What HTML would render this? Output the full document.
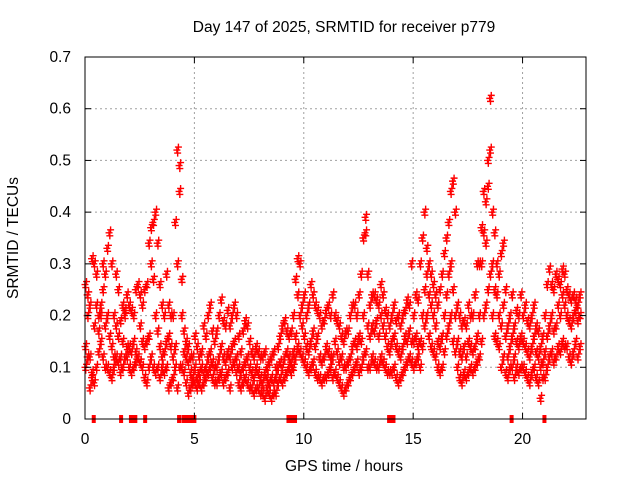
<!DOCTYPE html>
<html><head><meta charset="utf-8"><style>
body{margin:0;background:#fff}
svg{display:block;font-family:"Liberation Sans",sans-serif}
</style></head><body>
<svg id="chart" width="640" height="480" xmlns="http://www.w3.org/2000/svg">
<rect width="640" height="480" fill="#fff"/>
<text x="344" y="32" font-size="15.5" text-anchor="middle">Day 147 of 2025, SRMTID for receiver p779</text>
<text x="344" y="471" font-size="15.5" text-anchor="middle">GPS time / hours</text>
<text x="18" y="238" font-size="15.5" text-anchor="middle" transform="rotate(-90 18 238)">SRMTID / TECUs</text>
<g id="grid"></g>
<g id="marks"></g>
<g id="axes"></g>
</svg>
<script>
const xTicks=[0,5,10,15,20];
const yTicks=[0,0.1,0.2,0.3,0.4,0.5,0.6,0.7];
const yTickLabels=["0","0.1","0.2","0.3","0.4","0.5","0.6","0.7"];
const stepHours=0.1;
const midVals=[.14,.2,.12,.09,.18,.22,.17,.2,.25,.18,.2,.16,.14,.12,.18,.16,.12,.15,.2,.14,.14,.13,.15,.13,.12,.18,.15,.14,.15,.16,.3,.27,.2,.17,.14,.12,.13,.15,.16,.14,.12,.14,.3,.44,.2,.13,.12,.11,.09,.08,.1,.08,.09,.1,.09,.1,.12,.13,.11,.1,.1,.12,.14,.12,.11,.13,.12,.14,.15,.12,.1,.09,.1,.11,.12,.1,.09,.08,.1,.09,.08,.07,.09,.08,.07,.08,.07,.08,.1,.11,.1,.12,.13,.12,.11,.13,.16,.24,.2,.18,.16,.14,.13,.15,.17,.14,.16,.12,.11,.12,.14,.13,.12,.12,.15,.13,.11,.12,.1,.1,.11,.12,.14,.15,.14,.16,.15,.2,.36,.18,.16,.18,.17,.19,.16,.2,.18,.16,.14,.13,.15,.16,.14,.13,.12,.14,.16,.15,.17,.15,.15,.16,.14,.15,.2,.25,.28,.24,.22,.2,.18,.15,.14,.16,.2,.24,.28,.3,.25,.2,.15,.13,.12,.14,.12,.15,.14,.13,.14,.16,.2,.3,.36,.34,.45,.52,.3,.25,.24,.2,.18,.22,.16,.12,.14,.16,.12,.15,.14,.16,.15,.14,.13,.12,.14,.16,.13,.12,.1,.11,.13,.16,.18,.2,.17,.18,.22,.2,.24,.22,.2,.19,.18,.2,.21,.19,.2];
const hiVals=[.26,.24,.22,.31,.3,.28,.2,.22,.3,.28,.33,.36,.3,.2,.28,.25,.19,.22,.21,.24,.22,.21,.2,.25,.26,.24,.22,.25,.26,.34,.37,.38,.4,.34,.26,.22,.2,.28,.22,.2,.2,.38,.52,.49,.27,.17,.15,.14,.12,.12,.16,.14,.12,.13,.18,.16,.2,.22,.17,.15,.17,.2,.23,.19,.18,.21,.18,.2,.22,.2,.16,.13,.17,.19,.18,.15,.13,.12,.14,.13,.12,.12,.13,.1,.11,.12,.13,.1,.14,.16,.18,.19,.17,.16,.17,.2,.27,.31,.3,.22,.24,.2,.22,.26,.24,.22,.21,.2,.18,.19,.21,.22,.2,.24,.2,.19,.18,.16,.15,.17,.17,.2,.22,.22,.2,.24,.28,.35,.39,.28,.22,.24,.24,.23,.22,.26,.24,.21,.2,.18,.2,.22,.19,.2,.18,.2,.21,.23,.22,.3,.2,.24,.23,.3,.35,.4,.33,.3,.28,.26,.24,.22,.25,.28,.32,.35,.38,.44,.46,.4,.22,.2,.18,.19,.18,.22,.2,.2,.24,.3,.3,.37,.44,.42,.5,.62,.4,.36,.3,.28,.32,.34,.25,.18,.2,.24,.18,.21,.2,.24,.2,.22,.19,.18,.2,.22,.18,.17,.14,.16,.2,.26,.29,.26,.25,.28,.27,.26,.29,.28,.25,.24,.23,.24,.23,.22,.24];
const loVals=[.1,.12,.06,.08,.07,.1,.13,.15,.12,.1,.1,.09,.08,.1,.12,.11,.09,.1,.12,.12,.1,.09,.1,.11,.12,.11,.1,.08,.07,.1,.12,.1,.09,.1,.08,.1,.09,.1,.06,.07,.08,.1,.06,.1,.1,.09,.07,.05,.06,.07,.07,.06,.07,.06,.07,.08,.09,.1,.08,.07,.07,.08,.09,.07,.08,.09,.06,.1,.11,.09,.07,.06,.07,.08,.07,.06,.06,.05,.06,.06,.05,.05,.04,.06,.05,.04,.05,.05,.07,.08,.07,.08,.09,.1,.09,.1,.12,.14,.13,.12,.11,.1,.09,.1,.11,.09,.08,.08,.07,.08,.08,.09,.1,.08,.09,.08,.07,.06,.05,.06,.07,.08,.09,.1,.11,.09,.1,.12,.13,.1,.1,.12,.11,.1,.1,.12,.11,.1,.09,.09,.09,.1,.08,.07,.08,.09,.1,.11,.12,.11,.1,.11,.12,.1,.14,.18,.2,.16,.14,.13,.12,.1,.09,.1,.13,.16,.18,.2,.15,.13,.1,.08,.07,.09,.08,.09,.1,.09,.1,.11,.12,.15,.2,.22,.25,.28,.2,.16,.15,.14,.1,.12,.09,.08,.1,.1,.08,.1,.09,.1,.1,.09,.08,.07,.09,.1,.08,.07,.04,.08,.08,.1,.12,.13,.11,.12,.14,.13,.15,.14,.14,.12,.11,.13,.15,.12,.14];
const zeroHours=[0.4,1.65,2.1,2.2,2.3,2.75,4.3,4.5,4.6,4.7,4.8,4.9,5.0,9.3,9.4,9.5,9.6,13.9,14.0,14.1,19.5,21.0];
const X0=85,X1=586,Y0=419,Y1=57,XMAX=22.9,YMAX=0.7;
const sx=v=>X0+(v/XMAX)*(X1-X0);
const sy=v=>Y0-(v/YMAX)*(Y0-Y1);
const NS="http://www.w3.org/2000/svg";
function mk(tag,attrs,parent){const e=document.createElementNS(NS,tag);for(const k in attrs)e.setAttribute(k,attrs[k]);parent.appendChild(e);return e;}
const grid=document.getElementById('grid'),axes=document.getElementById('axes'),marks=document.getElementById('marks');
yTicks.forEach((t,i)=>{
 if(i>0&&i<yTicks.length-1){const g=mk('line',{x1:X0,x2:X1,y1:sy(t),y2:sy(t),stroke:'#a0a0a0','stroke-dasharray':'2,3'},grid);
 
 }
 const tk=mk('line',{x1:X0,x2:X0+6,y1:sy(t),y2:sy(t),stroke:'#000'},axes);
 
 
 const tk2=mk('line',{x1:X1,x2:X1-6,y1:sy(t),y2:sy(t),stroke:'#000'},axes);
 
 
 const l=mk('text',{x:X0-14,y:sy(t)+5,'font-size':15.5,'text-anchor':'end'},axes);l.textContent=yTickLabels[i];
 
 
});
xTicks.forEach(t=>{
 if(t>0){const g=mk('line',{x1:sx(t),x2:sx(t),y1:Y0,y2:Y1,stroke:'#a0a0a0','stroke-dasharray':'2,3'},grid);
 
 }
 const tk=mk('line',{x1:sx(t),x2:sx(t),y1:Y0,y2:Y0-6,stroke:'#000'},axes);
 
 
 const tk2=mk('line',{x1:sx(t),x2:sx(t),y1:Y1,y2:Y1+6,stroke:'#000'},axes);
 
 
 const l=mk('text',{x:sx(t),y:Y0+25,'font-size':15.5,'text-anchor':'middle'},axes);l.textContent=String(t);
 
 
});
const frame=mk('rect',{x:X0,y:Y1,width:X1-X0,height:Y0-Y1,fill:'none',stroke:'#000'},axes);


let d='';
function plus(x,y){d+=`M${x-3.5},${y}h7M${x},${y-3.5}v7`;}
[midVals,hiVals,loVals].forEach(arr=>{
 arr.forEach((v,i)=>{const t=i*stepHours;plus(sx(t),sy(v));plus(sx(t+0.035),sy(v)+3);plus(sx(t+0.07),sy(v)-3);});
});
const p=mk('path',{d:d,stroke:'#ff0000','stroke-width':1.4,fill:'none'},marks);


let z='';
zeroHours.forEach(t=>{z+=`M${sx(t)},${Y0-4}v8`;});
const zp=mk('path',{d:z,stroke:'#ff0000','stroke-width':4,fill:'none'},marks);


</script>
</body></html>
